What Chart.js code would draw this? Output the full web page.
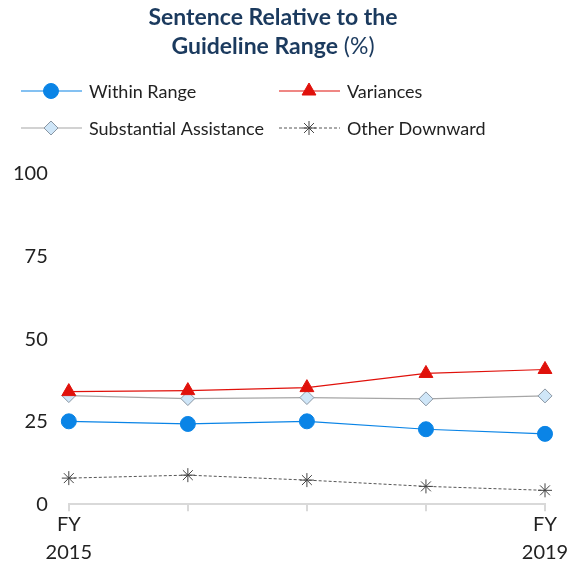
<!DOCTYPE html>
<html>
<head>
<meta charset="utf-8">
<script src="https://cdn.jsdelivr.net/npm/chart.js@4.4.1/dist/chart.umd.min.js"></script>
<style>
  html, body { margin: 0; padding: 0; background: #ffffff; }
  #wrap { width: 581px; height: 566px; position: relative; }
</style>
</head>
<body>
<div id="wrap"><canvas id="chart" width="581" height="566"></canvas></div>
<script>
// data
const years = ['FY 2015', 'FY 2016', 'FY 2017', 'FY 2018', 'FY 2019'];
const withinRange = [25.1, 24.3, 25.1, 22.7, 21.3];
const variances = [34.1, 34.4, 35.3, 39.6, 40.8];
const substantialAssistance = [32.9, 32.0, 32.3, 31.9, 32.8];
const otherDownward = [7.9, 8.8, 7.3, 5.4, 4.2];
const yTicks = [0, 25, 50, 75, 100];

const fontName = 'Lato, "DejaVu Sans", sans-serif';
const titleColor = '#1b3a5e';

// title + legend with line-and-marker swatches
const headerPlugin = {
  id: 'header',
  afterDraw(chart) {
    const ctx = chart.ctx;
    ctx.save();

    // title
    const cx = 273;
    ctx.fillStyle = titleColor;
    ctx.textBaseline = 'middle';
    ctx.textAlign = 'center';
    ctx.font = 'bold 23px ' + fontName;
    ctx.fillText('Sentence Relative to the', cx, 18);
    const boldPart = 'Guideline Range';
    const normalPart = ' (%)';
    const wBold = ctx.measureText(boldPart).width;
    ctx.font = '23px ' + fontName;
    const wNorm = ctx.measureText(normalPart).width;
    const startX = cx - (wBold + wNorm) / 2;
    ctx.textAlign = 'left';
    ctx.font = 'bold 23px ' + fontName;
    ctx.fillText(boldPart, startX, 47);
    ctx.font = '23px ' + fontName;
    ctx.fillText(normalPart, startX + wBold, 47);

    // legend
    const spots = [[21, 91], [279, 91], [21, 128], [279, 128]];
    chart.data.datasets.forEach((ds, i) => {
      const [x, y] = spots[i];
      ctx.strokeStyle = ds.borderColor;
      ctx.lineWidth = ds.borderWidth;
      ctx.setLineDash(ds.borderDash || []);
      ctx.beginPath();
      ctx.moveTo(x, y);
      ctx.lineTo(x + 61, y);
      ctx.stroke();
      ctx.setLineDash([]);
      ctx.fillStyle = ds.pointBackgroundColor;
      ctx.strokeStyle = ds.pointBorderColor;
      ctx.lineWidth = ds.pointBorderWidth;
      Chart.helpers.drawPoint(ctx, {
        pointStyle: ds.pointStyle,
        radius: ds.pointRadius,
        rotation: 0,
        borderWidth: ds.pointBorderWidth
      }, x + 30, y);
      ctx.fillStyle = '#222222';
      ctx.font = '18px ' + fontName;
      ctx.textAlign = 'left';
      ctx.textBaseline = 'middle';
      ctx.fillText(ds.label, x + 68, y + 1);
    });
    ctx.restore();
  }
};

new Chart(document.getElementById('chart'), {
  type: 'line',
  data: {
    labels: years,
    datasets: [
      {
        label: 'Within Range',
        data: withinRange,
        borderColor: '#0a84e6',
        borderWidth: 1.2,
        pointStyle: 'circle',
        pointRadius: 7.5,
        pointBackgroundColor: '#0a84e6',
        pointBorderColor: '#0a84e6',
        pointBorderWidth: 1,
      },
      {
        label: 'Variances',
        data: variances,
        borderColor: '#e0110b',
        borderWidth: 1.2,
        pointStyle: 'triangle',
        pointRadius: 8,
        pointBackgroundColor: '#e0110b',
        pointBorderColor: '#e0110b',
        pointBorderWidth: 1,
      },
      {
        label: 'Substantial Assistance',
        data: substantialAssistance,
        borderColor: '#a6a6a6',
        borderWidth: 1.2,
        pointStyle: 'rectRot',
        pointRadius: 7,
        pointBackgroundColor: '#cfe6f8',
        pointBorderColor: '#8a96a3',
        pointBorderWidth: 1,
      },
      {
        label: 'Other Downward',
        data: otherDownward,
        borderColor: '#555555',
        borderWidth: 1,
        borderDash: [3, 2],
        pointStyle: 'star',
        pointRadius: 7,
        pointBackgroundColor: '#444444',
        pointBorderColor: '#444444',
        pointBorderWidth: 1,
      },
    ],
  },
  options: {
    responsive: false,
    animation: false,
    layout: {
      padding: { top: 174, left: 0, right: 36, bottom: 0 },
    },
    plugins: {
      legend: { display: false },
      title: { display: false },
      tooltip: { enabled: false },
    },
    scales: {
      x: {
        grid: {
          drawOnChartArea: false,
          drawTicks: true,
          tickLength: 7,
          color: '#d9d9d9',
          lineWidth: 2,
        },
        border: { display: true, color: '#d9d9d9', width: 2 },
        ticks: {
          autoSkip: false,
          maxRotation: 0,
          color: '#222222',
          font: { family: fontName, size: 20, lineHeight: 1.37 },
          padding: 0,
          callback: function (value, index) {
            if (index === 0 || index === years.length - 1) {
              return years[index].split(' ');
            }
            return '';
          },
        },
      },
      y: {
        min: yTicks[0],
        max: yTicks[yTicks.length - 1],
        afterBuildTicks: axis => {
          axis.ticks = yTicks.map(v => ({ value: v }));
        },
        grid: { display: false },
        border: { display: false },
        ticks: {
          color: '#222222',
          font: { family: fontName, size: 20 },
          padding: 13,
        },
      },
    },
  },
  plugins: [headerPlugin],
});
</script>
</body>
</html>
